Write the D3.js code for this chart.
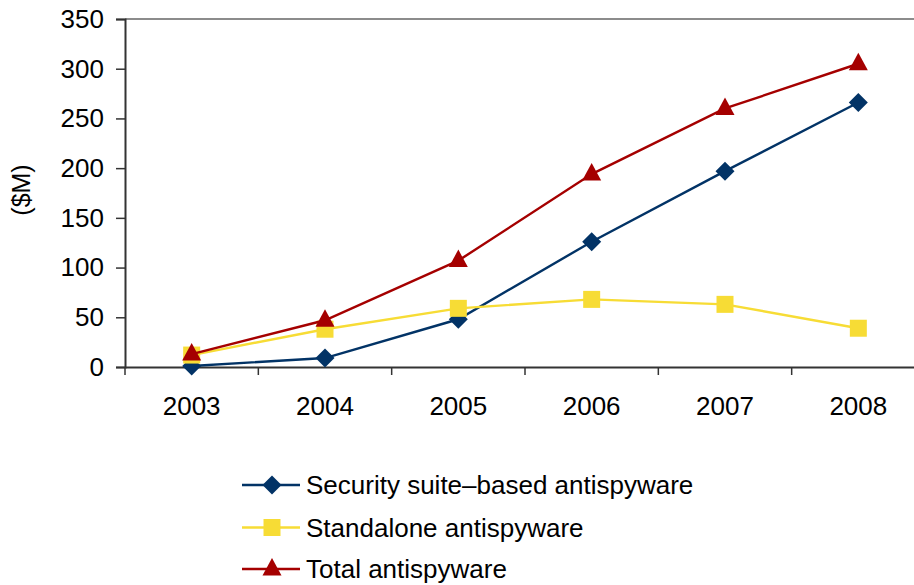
<!DOCTYPE html>
<html>
<head>
<meta charset="utf-8">
<script src="https://cdn.jsdelivr.net/npm/d3@7"></script>
<style>
  html, body { margin: 0; padding: 0; background: #fff; }
  svg { display: block; font-family: "Liberation Sans", Arial, sans-serif; }
</style>
</head>
<body>
<svg id="chart" width="914" height="585"></svg>
<script>
// Antispyware revenue by year ($M)
const years = ["2003", "2004", "2005", "2006", "2007", "2008"];
const suiteValues = [1, 9, 48, 126, 197, 266];
const standaloneValues = [12, 38, 59, 68, 63, 39];
const totalValues = [13, 47, 107, 194, 260, 305];
const yTicks = [0, 50, 100, 150, 200, 250, 300, 350];
const seriesNames = ["Security suite\u2013based antispyware", "Standalone antispyware", "Total antispyware"];

const series = [
  { name: seriesNames[0], values: suiteValues, color: "#023366", symbol: "diamond" },
  { name: seriesNames[1], values: standaloneValues, color: "#F7DC35", symbol: "square" },
  { name: seriesNames[2], values: totalValues, color: "#A50000", symbol: "triangle" }
];

const svg = d3.select("#chart");
const plot = { left: 125, right: 925, top: 19, bottom: 367 };
const FONT = 26;

const x = d3.scaleBand().domain(years).range([plot.left, plot.right]);
const y = d3.scaleLinear().domain([0, 350]).range([plot.bottom, plot.top]);

// top border of plot area
svg.append("line")
  .attr("x1", plot.left).attr("x2", plot.right)
  .attr("y1", plot.top).attr("y2", plot.top)
  .attr("stroke", "#8c8c8c").attr("stroke-width", 2);

// y axis
const yAxis = svg.append("g")
  .attr("transform", `translate(${plot.left},0)`)
  .call(d3.axisLeft(y).tickValues(yTicks).tickSize(9).tickPadding(12));
yAxis.select(".domain").attr("stroke", "#333").attr("stroke-width", 2);
yAxis.selectAll(".tick line").attr("stroke", "#333").attr("stroke-width", 1.5);
yAxis.selectAll("text").attr("font-size", FONT).attr("fill", "#000")
  .attr("font-family", "Liberation Sans, Arial, sans-serif");

// x axis with ticks at band boundaries
const xAxis = svg.append("g")
  .attr("transform", `translate(0,${plot.bottom})`)
  .call(d3.axisBottom(x).tickSize(0).tickPadding(30));
xAxis.select(".domain").attr("stroke", "#333").attr("stroke-width", 2);
xAxis.selectAll("text").attr("font-size", FONT).attr("fill", "#000")
  .attr("font-family", "Liberation Sans, Arial, sans-serif");
xAxis.selectAll(".bound")
  .data(years.map(d => x(d)).concat([plot.right]))
  .enter().append("line")
  .attr("class", "bound")
  .attr("x1", d => d).attr("x2", d => d)
  .attr("y1", 0).attr("y2", 8)
  .attr("stroke", "#333").attr("stroke-width", 1.5);

// y axis title
svg.append("text")
  .attr("transform", `translate(30,190) rotate(-90)`)
  .attr("text-anchor", "middle")
  .attr("font-size", 25)
  .attr("fill", "#000")
  .text("($M)");

const cx = d => x(d) + x.bandwidth() / 2;

function symbolPath(kind) {
  if (kind === "diamond") return "M0,-9.5L9.5,0L0,9.5L-9.5,0Z";
  if (kind === "square") return "M-8.5,-8.5H8.5V8.5H-8.5Z";
  return "M0,-11L9.5,6.5L-9.5,6.5Z";
}

const line = d3.line().x((d, i) => cx(years[i])).y(d => y(d));

series.forEach(s => {
  const g = svg.append("g");
  g.append("path")
    .attr("d", line(s.values))
    .attr("fill", "none")
    .attr("stroke", s.color)
    .attr("stroke-width", 2.4);
  g.selectAll("path.mark")
    .data(s.values)
    .enter().append("path")
    .attr("class", "mark")
    .attr("d", symbolPath(s.symbol))
    .attr("transform", (d, i) => `translate(${cx(years[i])},${y(d)})`)
    .attr("fill", s.color);
});

// legend
const legend = svg.append("g");
const legendRows = [485, 527.5, 569];
series.forEach((s, i) => {
  const row = legend.append("g").attr("transform", `translate(0,${legendRows[i]})`);
  row.append("line")
    .attr("x1", 242).attr("x2", 300).attr("y1", 0).attr("y2", 0)
    .attr("stroke", s.color).attr("stroke-width", 2.4);
  row.append("path")
    .attr("d", symbolPath(s.symbol))
    .attr("transform", `translate(272,0)`)
    .attr("fill", s.color);
  row.append("text")
    .attr("x", 306).attr("y", 0).attr("dy", "0.36em")
    .attr("font-size", FONT).attr("fill", "#000")
    .text(s.name);
});
</script>
</body>
</html>
